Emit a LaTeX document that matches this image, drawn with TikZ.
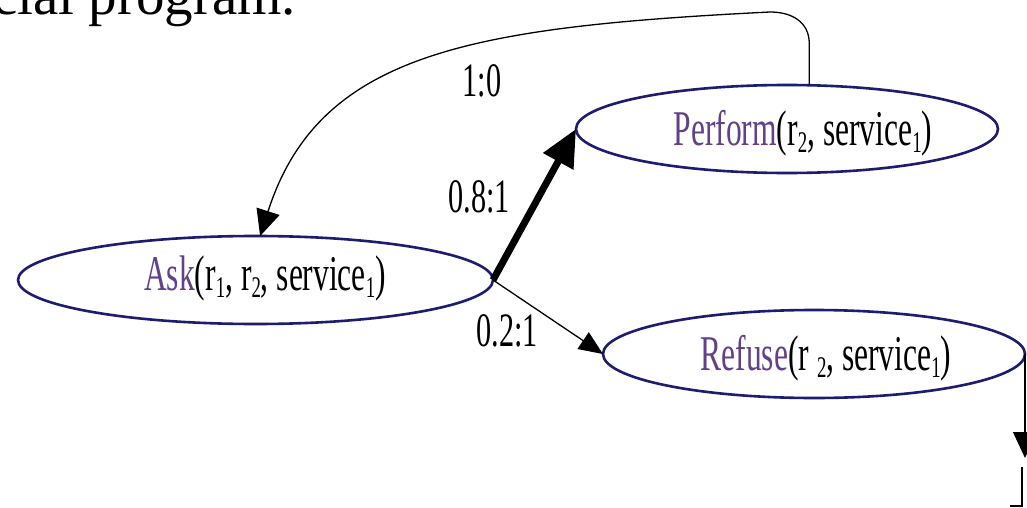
\documentclass[tikz,border=0pt]{standalone}
\usepackage{fontspec}
\setmainfont{Liberation Serif}
\usepackage{graphicx}
\usetikzlibrary{arrows.meta,shapes.geometric}
\definecolor{edgeblue}{RGB}{28,28,112}
\definecolor{namecol}{RGB}{98,64,142}
% condensed labels, small lowered indices, coloured action names
\newcommand\subs[1]{\raisebox{-7pt}{\fontsize{30}{30}\selectfont #1}}
\newcommand\nm[1]{\textcolor{namecol}{#1}}
\newcommand\narrow[1]{\scalebox{0.63}[1]{#1}}

\begin{document}
\begin{tikzpicture}[x=1pt,y=-1pt,
  state/.style={ellipse, draw=edgeblue, line width=2.6pt, minimum height=88pt,
                inner sep=0pt, outer sep=0pt},
  lbl/.style={anchor=base, inner sep=0pt, font=\fontsize{50}{60}\selectfont},
  elbl/.style={anchor=base, inner sep=0pt, font=\fontsize{48}{58}\selectfont},
  link/.style={line width=1.3pt, -{Triangle[length=26pt,width=24pt]}},
  heavy/.style={line width=7pt, -{Triangle[length=37pt,width=33pt]}},
  light/.style={line width=1.3pt, -{Triangle[length=24pt,width=20pt]}}]

\path[use as bounding box] (0,0) rectangle (1027,508);
\clip (0,0) rectangle (1027,508);
\fill[white] (0,0) rectangle (1027,508);

% heading line above the graph
\node[anchor=base west, inner sep=0pt, font=\fontsize{57}{68}\selectfont] (head) at (-8,15) {cial program.};

% states
\node[state, minimum width=475pt] (ask)  at (255.5,280) {};
\node[state, minimum width=422pt] (perf) at (787,129) {};
\node[state, minimum width=422pt] (ref)  at (814,354) {};

\node[lbl] (askT)  at (265,290) {\narrow{\nm{Ask}(r\subs{1}, r\subs{2}, service\subs{1})}};
\node[lbl] (perfT) at (803,145) {\narrow{\nm{Perform}(r\subs{2}, service\subs{1})}};
\node[lbl] (refT)  at (826,370) {\narrow{\nm{Refuse}(r \subs{2}, service\subs{1})}};

% transitions
\draw[heavy] (ask.east) -- (perf.west);
\draw[light] (ask.east) -- (ref.west);
\coordinate (loopTop) at (770,12);
\draw[link] (perf.63) -- ++(0,-42) .. controls (809,22) and (792,12) .. (loopTop)
      .. controls (470,27) and (319,53) .. (ask.84);
\coordinate (refEnd) at (1024,458);
\draw[link] (ref.east) -- (ref.east |- refEnd);
\draw[line width=1.5pt] (1022,467) -- (1022,506) -- (1010,506);

% transition labels
\node[elbl] (l10) at (482,97)  {\narrow{1:0}};
\node[elbl] (l08) at (479,212) {\narrow{0.8:1}};
\node[elbl] (l02) at (507,346) {\narrow{0.2:1}};
\end{tikzpicture}
\end{document}
